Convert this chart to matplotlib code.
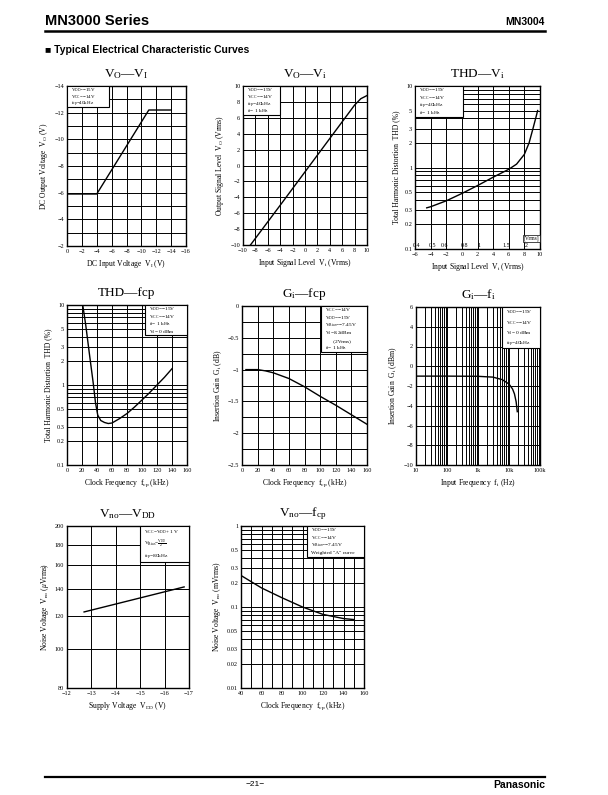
import numpy as np
import matplotlib.pyplot as plt
from matplotlib.lines import Line2D
from matplotlib.patches import Rectangle
from matplotlib.ticker import FixedLocator, NullFormatter, FixedFormatter

plt.rcParams['font.family'] = ['Liberation Serif', 'DejaVu Serif']
plt.rcParams['mathtext.fontset'] = 'custom'
plt.rcParams['mathtext.rm'] = 'Liberation Serif'
plt.rcParams['mathtext.it'] = 'Liberation Serif:italic'
plt.rcParams['axes.unicode_minus'] = True

# --- data ---
# Vo - Vi (DC)
dc_vi = [0, -4, -11, -14]
dc_vo = [-5.9, -5.9, -12.2, -12.2]
# Vo - Vi (AC)
ac_vi = [-8.8, -4, 0, 4, 8, 9, 10]
ac_vo = [-10.0, -5.0, -0.8, 3.4, 7.6, 8.4, 8.8]
# THD - Vi
thdv_x = [-4.5, -4, -2, 0, 2, 4, 6, 7, 8, 8.6, 9.1, 9.5, 9.7]
thdv_y = [0.32, 0.33, 0.39, 0.48, 0.6, 0.76, 0.95, 1.1, 1.45, 2.0, 3.0, 4.2, 5.0]
vrms_marks = [0.4, 0.5, 0.6, 0.8, 1, 1.5, 2]
# THD - fcp
thdf_x = [21, 25, 30, 35, 38, 41, 45, 50, 55, 60, 70, 80, 90, 100, 110, 120, 130, 140]
thdf_y = [10, 5.6, 2.4, 1.05, 0.6, 0.42, 0.36, 0.34, 0.33, 0.335, 0.38, 0.44, 0.53, 0.65, 0.8, 1.0, 1.25, 1.6]
# Gi - fcp
gif_x = [5, 20, 30, 40, 60, 80, 100, 120, 140, 160]
gif_y = [-1.0, -1.0, -1.02, -1.05, -1.14, -1.27, -1.42, -1.56, -1.71, -1.86]
# Gi - fi
gii_x = [10, 100, 1000, 3000, 6000, 10000, 13000, 15000, 17000, 18500]
gii_y = [-1.0, -1.0, -1.02, -1.1, -1.35, -1.8, -2.3, -2.8, -3.6, -4.6]
# Vno - VDD
vnd_x = [-12.7, -16.8]
vnd_y = [123, 141.7]
# Vno - fcp
vnf_x = [40, 60, 80, 100, 120, 140, 150]
vnf_y = [0.245, 0.172, 0.13, 0.1, 0.081, 0.072, 0.070]

W, H = 608, 795
fig = plt.figure(figsize=(W / 100, H / 100), dpi=100)


def add_ax(x0, y0, x1, y1):
    ax = fig.add_axes([x0 / W, 1 - y1 / H, (x1 - x0) / W, (y1 - y0) / H])
    ax.tick_params(which='both', length=0, labelsize=4.5, pad=2)
    for s in ax.spines.values():
        s.set_linewidth(1.0)
    ax.set_axisbelow(True)
    return ax


def grid(ax):
    ax.grid(which='both', color='k', lw=0.7)


def note(ax, x0, x1, y0, lines, fs=3.9):
    # white condition box in a corner of the plot
    ax.add_patch(Rectangle((x0, y0), x1 - x0, 1 - y0, transform=ax.transAxes,
                           fc='white', ec='k', lw=0.8, zorder=3))
    step = (1 - y0) / len(lines)
    for i, s in enumerate(lines):
        ax.text(x0 + 0.035, 1 - (i + 0.55) * step, s, transform=ax.transAxes, fontsize=fs,
                va='center', ha='left', zorder=4)


def title(ax, s):
    b = ax.get_position()
    fig.text((b.x0 + b.x1) / 2, b.y1 + 12 / H, s, ha='center', va='center', fontsize=9.5)


# ---------- row 1 ----------
ax1 = add_ax(67, 86, 186, 246)
ax1.plot(dc_vi, dc_vo, color='k', lw=1.0, zorder=2)
ax1.set_xlim(0, -16)
ax1.set_ylim(-2, -14)
ax1.set_xticks(np.arange(0, -17, -2))
ax1.set_yticks(np.arange(-2, -15, -2))
ax1.yaxis.set_minor_locator(FixedLocator(np.arange(-3, -14, -2)))
grid(ax1)
note(ax1, 0, 0.35, 0.87, [r'V$_{\rm DD}$=−15V', r'V$_{\rm CC}$=−14V', r'f$_{\rm cp}$=40kHz'], fs=3.6)
ax1.set_xlabel(r'DC Input Voltage  V$_{\rm I}$ (V)', fontsize=5.5, labelpad=3)
ax1.set_ylabel(r'DC Output Voltage  V$_{\rm O}$ (V)', fontsize=5.5, labelpad=3)
title(ax1, r'V$_{\rm O}$—V$_{\rm I}$')

ax2 = add_ax(243, 86, 367, 245)
ax2.plot(ac_vi, ac_vo, color='k', lw=1.0, zorder=2)
ax2.set_xlim(-10, 10)
ax2.set_ylim(-10, 10)
ax2.set_xticks(np.arange(-10, 11, 2))
ax2.set_yticks(np.arange(-10, 11, 2))
grid(ax2)
note(ax2, 0, 0.30, 0.82, [r'V$_{\rm DD}$=−15V', r'V$_{\rm CC}$=−14V', r'f$_{\rm cp}$=40kHz', r'f$_{\rm i}$= 1 kHz'])
ax2.set_xlabel(r'Input Signal Level  V$_{\rm i}$ (Vrms)', fontsize=5.5, labelpad=3)
ax2.set_ylabel(r'Output Signal Level  V$_{\rm O}$ (Vrms)', fontsize=5.5, labelpad=3)
title(ax2, r'V$_{\rm O}$—V$_{\rm i}$')

ax3 = add_ax(415, 86, 540, 249)
ax3.plot(thdv_x, thdv_y, color='k', lw=1.0, zorder=2)
ax3.set_yscale('log')
ax3.set_xlim(-6, 10)
ax3.set_ylim(0.1, 10)
ax3.set_xticks(np.arange(-6, 11, 2))
ax3.yaxis.set_major_locator(FixedLocator([0.1, 0.2, 0.3, 0.5, 1, 2, 3, 5, 10]))
ax3.yaxis.set_major_formatter(FixedFormatter(['0.1', '0.2', '0.3', '0.5', '1', '2', '3', '5', '10']))
ax3.yaxis.set_minor_locator(FixedLocator([0.4, 0.6, 0.7, 0.8, 0.9, 4, 6, 7, 8, 9]))
ax3.yaxis.set_minor_formatter(NullFormatter())
grid(ax3)
for v in vrms_marks:
    ax3.text(20 * np.log10(v / 0.775), 0.104, str(v), fontsize=4.3, ha='center', va='bottom')
ax3.text(8.9, 0.125, '[Vrms]', fontsize=4.0, ha='center', va='bottom',
         bbox=dict(fc='white', ec='k', lw=0.5, pad=0.6))
note(ax3, 0, 0.38, 0.81, [r'V$_{\rm DD}$=−15V', r'V$_{\rm CC}$=−14V', r'f$_{\rm cp}$=40kHz', r'f$_{\rm i}$= 1 kHz'])
ax3.set_xlabel(r'Input Signal Level  V$_{\rm i}$ (Vrms)', fontsize=5.5, labelpad=3)
ax3.set_ylabel('Total Harmonic Distortion  THD (%)', fontsize=5.5, labelpad=3)
title(ax3, r'THD—V$_{\rm i}$')

# ---------- row 2 ----------
ax4 = add_ax(67, 305, 187, 465)
ax4.plot(thdf_x, thdf_y, color='k', lw=1.0, zorder=2)
ax4.set_yscale('log')
ax4.set_xlim(0, 160)
ax4.set_ylim(0.1, 10)
ax4.set_xticks(np.arange(0, 161, 20))
ax4.yaxis.set_major_locator(FixedLocator([0.1, 0.2, 0.3, 0.5, 1, 2, 3, 5, 10]))
ax4.yaxis.set_major_formatter(FixedFormatter(['0.1', '0.2', '0.3', '0.5', '1', '2', '3', '5', '10']))
ax4.yaxis.set_minor_locator(FixedLocator([0.4, 0.6, 0.7, 0.8, 0.9, 4, 6, 7, 8, 9]))
ax4.yaxis.set_minor_formatter(NullFormatter())
grid(ax4)
note(ax4, 0.65, 1.0, 0.81, [r'V$_{\rm DD}$=−15V', r'V$_{\rm CC}$=−14V', r'f$_{\rm i}$= 1 kHz', r'V$_{\rm i}$= 0 dBm'])
ax4.set_xlabel(r'Clock Frequency  f$_{\rm cp}$ (kHz)', fontsize=5.5, labelpad=3)
ax4.set_ylabel('Total Harmonic Distortion  THD (%)', fontsize=5.5, labelpad=3)
title(ax4, 'THD—fcp')

ax5 = add_ax(242, 306, 367, 465)
ax5.plot(gif_x, gif_y, color='k', lw=1.0, zorder=2)
ax5.set_xlim(0, 160)
ax5.set_ylim(-2.5, 0)
ax5.set_xticks(np.arange(0, 161, 20))
ax5.set_yticks([-2.5, -2, -1.5, -1, -0.5, 0])
ax5.yaxis.set_major_formatter(FixedFormatter(['−2.5', '−2', '−1.5', '−1', '−0.5', '0']))
ax5.yaxis.set_minor_locator(FixedLocator([-2.25, -1.75, -1.25, -0.75, -0.25]))
grid(ax5)
note(ax5, 0.63, 1.0, 0.71, [r'V$_{\rm CC}$=−14V', r'V$_{\rm DD}$=−15V', r'V$_{\rm Bias}$=−7.45V',
                            r'V$_{\rm i}$=8.2dBm', '      (2Vrms)', r'f$_{\rm i}$= 1 kHz'])
ax5.set_xlabel(r'Clock Frequency  f$_{\rm cp}$ (kHz)', fontsize=5.5, labelpad=3)
ax5.set_ylabel(r'Insertion Gain  G$_{\rm i}$ (dB)', fontsize=5.5, labelpad=3)
title(ax5, r'G$_{\rm i}$—fcp')

ax6 = add_ax(416, 307, 540, 465)
ax6.plot(gii_x, gii_y, color='k', lw=1.0, zorder=2)
ax6.set_xscale('log')
ax6.set_xlim(10, 1e5)
ax6.set_ylim(-10, 6)
ax6.xaxis.set_major_locator(FixedLocator([10, 100, 1e3, 1e4, 1e5]))
ax6.xaxis.set_major_formatter(FixedFormatter(['10', '100', '1k', '10k', '100k']))
ax6.xaxis.set_minor_formatter(NullFormatter())
ax6.set_yticks(np.arange(-10, 7, 2))
grid(ax6)
note(ax6, 0.69, 1.0, 0.74, [r'V$_{\rm DD}$=−15V', r'V$_{\rm CC}$=−14V', r'V$_{\rm i}$= 0 dBm', r'f$_{\rm cp}$=40kHz'])
ax6.set_xlabel(r'Input Frequency  f$_{\rm i}$ (Hz)', fontsize=5.5, labelpad=3)
ax6.set_ylabel(r'Insertion Gain  G$_{\rm i}$ (dBm)', fontsize=5.5, labelpad=3)
title(ax6, r'G$_{\rm i}$—f$_{\rm i}$')

# ---------- row 3 ----------
ax7 = add_ax(67, 526, 189, 688)
ax7.plot(vnd_x, vnd_y, color='k', lw=1.0, zorder=2)
ax7.set_yscale('log')
ax7.set_xlim(-12, -17)
ax7.set_ylim(80, 200)
ax7.set_xticks(np.arange(-12, -18, -1))
ax7.yaxis.set_major_locator(FixedLocator([80, 100, 120, 140, 160, 180, 200]))
ax7.yaxis.set_major_formatter(FixedFormatter(['80', '100', '120', '140', '160', '180', '200']))
ax7.yaxis.set_minor_locator(FixedLocator([]))
ax7.yaxis.set_minor_formatter(NullFormatter())
grid(ax7)
note(ax7, 0.6, 1.0, 0.78, [r'V$_{\rm CC}$=V$_{\rm DD}$+ 1 V', r'V$_{\rm Bias}$=$\frac{\rm V_{DD}}{2}$',
                           r'f$_{\rm cp}$=80kHz'])
ax7.set_xlabel(r'Supply Voltage  V$_{\rm DD}$ (V)', fontsize=5.5, labelpad=3)
ax7.set_ylabel(r'Noise Voltage  V$_{\rm no}$ ($\mu$Vrms)', fontsize=5.5, labelpad=3)
title(ax7, r'V$_{\rm no}$—V$_{\rm DD}$')

ax8 = add_ax(241, 526, 364, 688)
ax8.plot(vnf_x, vnf_y, color='k', lw=1.0, zorder=2)
ax8.set_yscale('log')
ax8.set_xlim(40, 160)
ax8.set_ylim(0.01, 1)
ax8.set_xticks(np.arange(40, 161, 20))
ax8.xaxis.set_minor_locator(FixedLocator(np.arange(50, 160, 20)))
ax8.yaxis.set_major_locator(FixedLocator([0.01, 0.02, 0.03, 0.05, 0.1, 0.2, 0.3, 0.5, 1]))
ax8.yaxis.set_major_formatter(FixedFormatter(['0.01', '0.02', '0.03', '0.05', '0.1', '0.2', '0.3', '0.5', '1']))
ax8.yaxis.set_minor_locator(FixedLocator([0.04, 0.06, 0.07, 0.08, 0.09, 0.4, 0.6, 0.7, 0.8, 0.9]))
ax8.yaxis.set_minor_formatter(NullFormatter())
grid(ax8)
note(ax8, 0.535, 1.0, 0.81, [r'V$_{\rm DD}$=−15V', r'V$_{\rm CC}$=−14V', r'V$_{\rm Bias}$=−7.45V',
                             'Weighted "A" curve'])
ax8.set_xlabel(r'Clock Frequency  f$_{\rm cp}$ (kHz)', fontsize=5.5, labelpad=3)
ax8.set_ylabel(r'Noise Voltage  V$_{\rm no}$ (mVrms)', fontsize=5.5, labelpad=3)
title(ax8, r'V$_{\rm no}$—f$_{\rm cp}$')

# ---------- page header / footer ----------
sans = ['Liberation Sans', 'DejaVu Sans']
fig.text(45 / W, 1 - 21 / H, 'MN3000 Series', family=sans, fontsize=10.5, weight='bold', va='center')
fig.text(545 / W, 1 - 22 / H, 'MN3004', family=sans, fontsize=7.5, weight='bold', va='center', ha='right')
fig.add_artist(Line2D([45 / W, 545 / W], [1 - 31 / H, 1 - 31 / H], color='k', lw=1.8))
fig.text(45 / W, 1 - 50 / H, '■ Typical Electrical Characteristic Curves', family=sans,
         fontsize=7.5, weight='bold', va='center')
fig.add_artist(Line2D([45 / W, 545 / W], [1 - 777 / H, 1 - 777 / H], color='k', lw=1.6))
fig.text(255 / W, 1 - 784 / H, '−21−', family=sans, fontsize=6, va='center', ha='center')
fig.text(545 / W, 1 - 785 / H, 'Panasonic', family=sans, fontsize=7.5, weight='bold', va='center', ha='right')

fig.savefig('out.png', dpi=100)
